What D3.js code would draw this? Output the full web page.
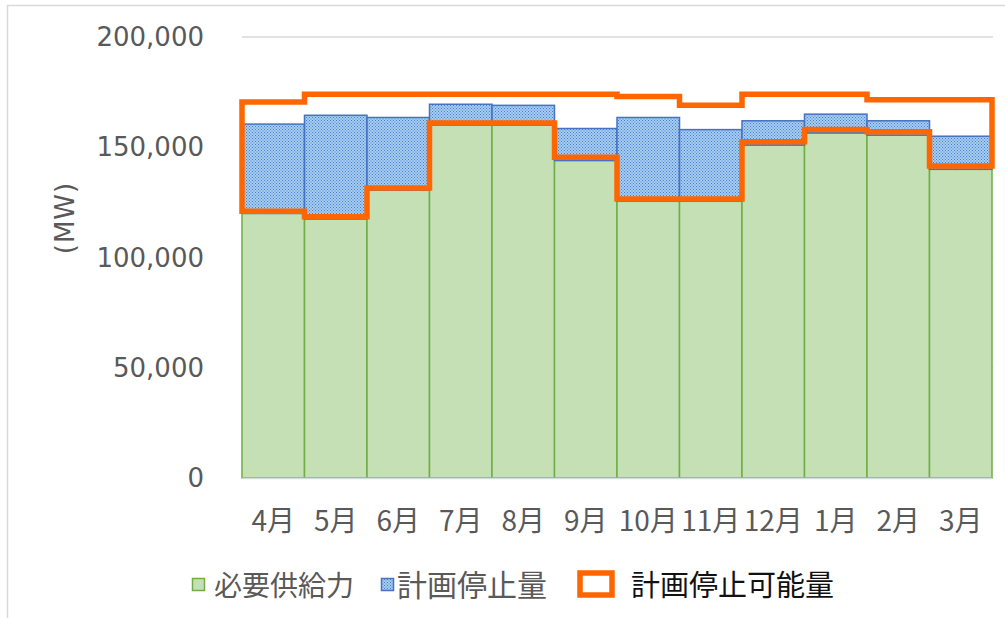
<!DOCTYPE html>
<html>
<head>
<meta charset="utf-8">
<script src="https://cdn.jsdelivr.net/npm/d3@7"></script>
<style>
  body { margin: 0; background: #fff; }
</style>
</head>
<body>
<svg width="1005" height="618"></svg>
<script>
// months of the fiscal year
var months = ["4月", "5月", "6月", "7月", "8月", "9月", "10月", "11月", "12月", "1月", "2月", "3月"];
// 必要供給力 (MW)
var supply = [120000, 117500, 130500, 160000, 160000, 144000, 125500, 125500, 151000, 156500, 155500, 140000];
// 計画停止量 (MW), stacked on top of supply
var outage = [40500, 47000, 33000, 9500, 9000, 14500, 38000, 32500, 11000, 8500, 6500, 15000];
// 計画停止可能量 outline: upper and lower edge (MW)
var capUpper = [170500, 174000, 174000, 174000, 174000, 174000, 173000, 169000, 174000, 174000, 171500, 171500];
var capLower = [121000, 118500, 131500, 161000, 161000, 145500, 126500, 126500, 152500, 158000, 157000, 141500];
var yTicks = [0, 50000, 100000, 150000, 200000];

var jp = '"Noto Sans CJK JP", "Noto Sans", sans-serif';

function main() {
    var svg = d3.select("svg");

    var xScale = d3.scaleBand().domain(months).range([242, 992]).padding(0),
        yScale = d3.scaleLinear().domain([0, 200000]).range([478, 37]);

    // chart border
    svg.append("rect")
       .attr("x", 7.5).attr("y", 5.5)
       .attr("width", 1020).attr("height", 630)
       .attr("fill", "none")
       .attr("stroke", "#d9d9d9")
       .attr("stroke-width", 1.5);

    // blue dotted pattern
    var pat = svg.append("defs").append("pattern")
       .attr("id", "dots")
       .attr("patternUnits", "userSpaceOnUse")
       .attr("width", 3).attr("height", 3);
    pat.append("rect").attr("width", 3).attr("height", 3).attr("fill", "#a9cdf0");
    pat.append("rect").attr("x", 0).attr("y", 0).attr("width", 1).attr("height", 1).attr("fill", "#3f7fcf");
    pat.append("rect").attr("x", 1.5).attr("y", 1.5).attr("width", 1).attr("height", 1).attr("fill", "#3f7fcf");

    // gridlines
    svg.append("g")
       .selectAll("line")
       .data(yTicks.slice(1))
       .enter().append("line")
       .attr("x1", 242).attr("x2", 993)
       .attr("y1", function(d) { return yScale(d); })
       .attr("y2", function(d) { return yScale(d); })
       .attr("stroke", "#d9d9d9")
       .attr("stroke-width", 1.5);

    // y axis labels
    svg.append("g")
       .selectAll("text")
       .data(yTicks)
       .enter().append("text")
       .attr("x", 204)
       .attr("y", function(d) { return yScale(d); })
       .attr("dy", "0.35em")
       .attr("text-anchor", "end")
       .style("font-family", "DejaVu Sans")
       .style("font-size", "26px")
       .attr("fill", "#595959")
       .text(function(d) { return d3.format(",")(d); });

    svg.append("text")
       .attr("transform", "translate(74,218) rotate(-90)")
       .attr("text-anchor", "middle")
       .style("font-family", "DejaVu Sans")
       .style("font-size", "26px")
       .style("letter-spacing", "1px")
       .attr("fill", "#595959")
       .text("(MW)");

    // green bars
    svg.append("g")
       .selectAll("rect")
       .data(months)
       .enter().append("rect")
       .attr("x", function(d) { return xScale(d); })
       .attr("y", function(d, i) { return yScale(supply[i]); })
       .attr("width", xScale.bandwidth())
       .attr("height", function(d, i) { return yScale(0) - yScale(supply[i]); })
       .attr("fill", "#c5e0b4")
       .attr("stroke", "#70ad47")
       .attr("stroke-width", 1.5);

    // blue stacked bars
    svg.append("g")
       .selectAll("rect")
       .data(months)
       .enter().append("rect")
       .attr("x", function(d) { return xScale(d); })
       .attr("y", function(d, i) { return yScale(supply[i] + outage[i]); })
       .attr("width", xScale.bandwidth())
       .attr("height", function(d, i) { return yScale(supply[i]) - yScale(supply[i] + outage[i]); })
       .attr("fill", "url(#dots)")
       .attr("stroke", "#4472c4")
       .attr("stroke-width", 1.5);

    // x axis line
    svg.append("line")
       .attr("x1", 242).attr("x2", 992)
       .attr("y1", yScale(0) + 0.5).attr("y2", yScale(0) + 0.5)
       .attr("stroke", "#d9d9d9")
       .attr("stroke-width", 1.5);

    // month labels
    svg.append("g")
       .selectAll("text")
       .data(months)
       .enter().append("text")
       .attr("x", function(d) { return xScale(d) + xScale.bandwidth() / 2; })
       .attr("y", 531)
       .attr("text-anchor", "middle")
       .style("font-family", jp)
       .style("font-size", "28px")
       .attr("fill", "#595959")
       .text(function(d) { return d; });

    // orange outline for 計画停止可能量
    var pts = [];
    months.forEach(function(m, i) {
        pts.push([xScale(m), yScale(capUpper[i])]);
        pts.push([xScale(m) + xScale.bandwidth(), yScale(capUpper[i])]);
    });
    months.slice().reverse().forEach(function(m) {
        var i = months.indexOf(m);
        pts.push([xScale(m) + xScale.bandwidth(), yScale(capLower[i])]);
        pts.push([xScale(m), yScale(capLower[i])]);
    });
    svg.append("path")
       .attr("d", d3.line()(pts) + "Z")
       .attr("fill", "none")
       .attr("stroke", "#ff6600")
       .attr("stroke-width", 5.5)
       .attr("stroke-linejoin", "miter");

    // legend
    var legend = svg.append("g").style("font-family", jp);
    legend.append("rect")
       .attr("x", 192.5).attr("y", 578.5).attr("width", 12).attr("height", 12)
       .attr("fill", "#c5e0b4").attr("stroke", "#70ad47").attr("stroke-width", 1.5);
    legend.append("text")
       .attr("x", 214).attr("y", 596)
       .style("font-size", "28px").attr("fill", "#595959")
       .text("必要供給力");
    legend.append("rect")
       .attr("x", 381.5).attr("y", 578.5).attr("width", 12).attr("height", 12)
       .attr("fill", "url(#dots)").attr("stroke", "#4472c4").attr("stroke-width", 1.5);
    legend.append("text")
       .attr("x", 397).attr("y", 596)
       .style("font-size", "30px").attr("fill", "#595959")
       .text("計画停止量");
    legend.append("rect")
       .attr("x", 580).attr("y", 573).attr("width", 32).attr("height", 22)
       .attr("fill", "#fff").attr("stroke", "#ff6600").attr("stroke-width", 5.5);
    legend.append("text")
       .attr("x", 631).attr("y", 596)
       .style("font-size", "29px").attr("fill", "#111")
       .text("計画停止可能量");
}
main();
</script>
</body>
</html>
